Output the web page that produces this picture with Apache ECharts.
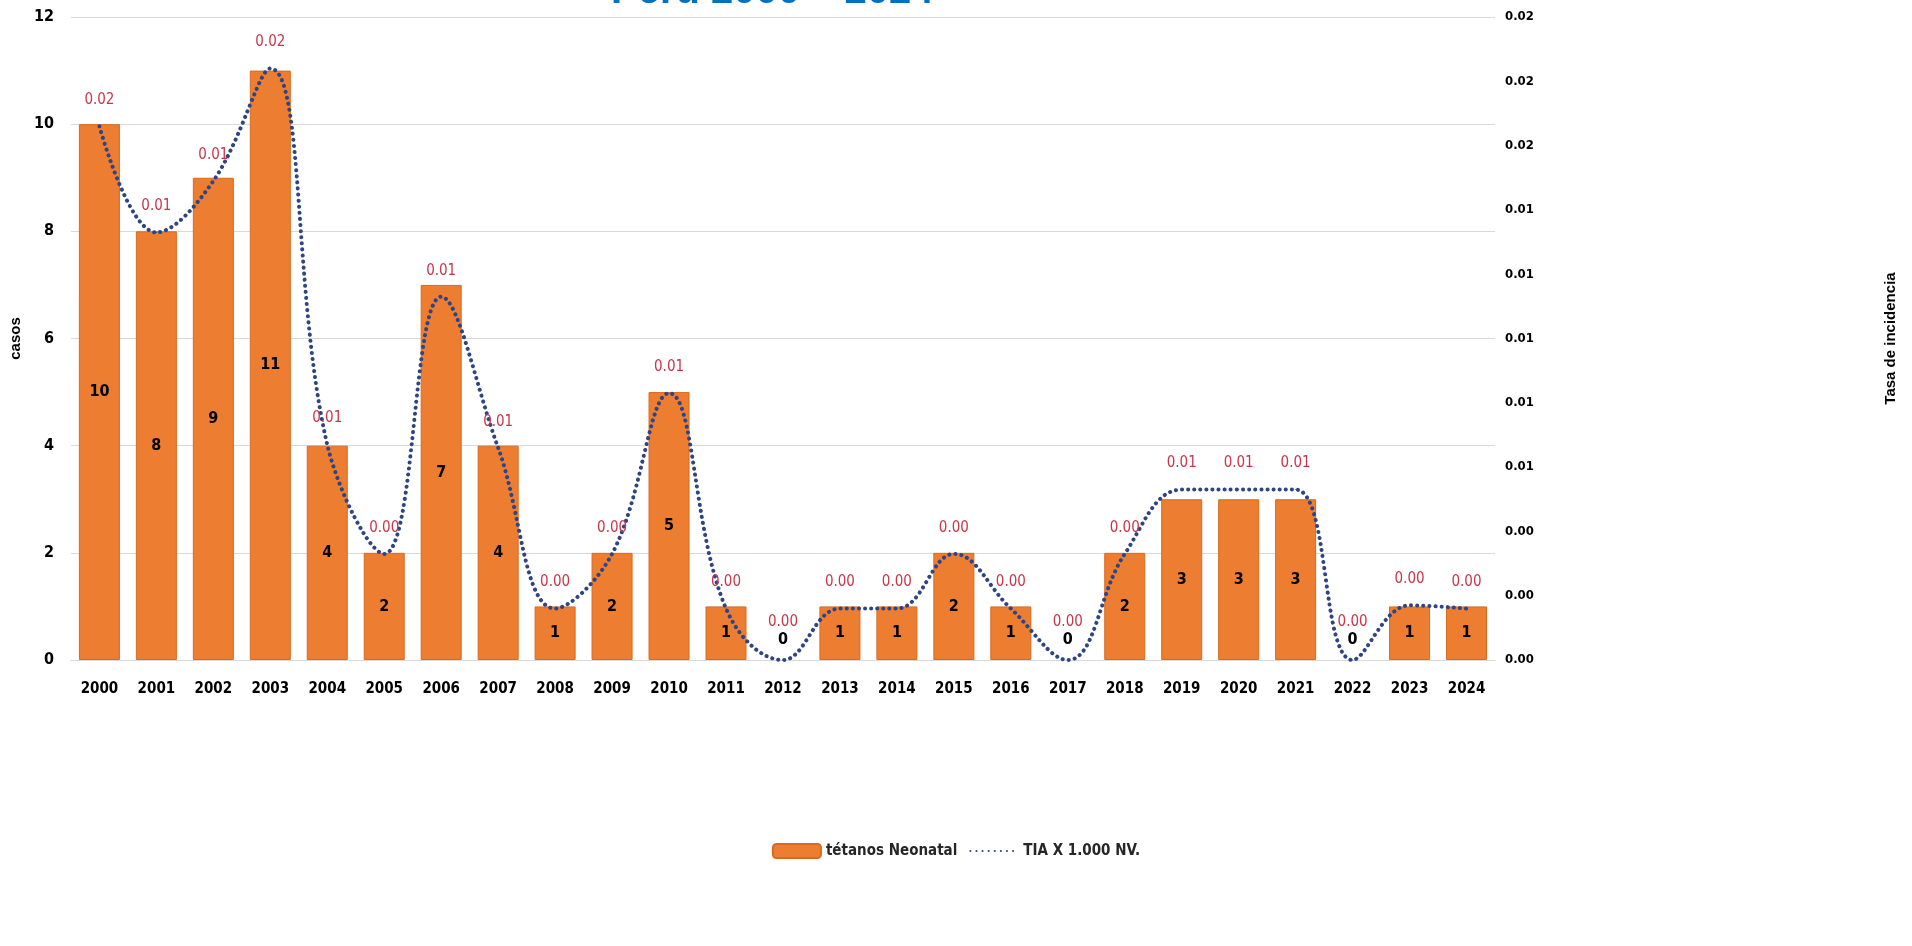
<!DOCTYPE html>
<html>
<head>
<meta charset="utf-8">
<script src="https://cdn.jsdelivr.net/npm/echarts@6/dist/echarts.min.js"></script>
<style>
html,body{margin:0;padding:0;background:#fff;}
#chart{width:1912px;height:946px;}
</style>
</head>
<body>
<div id="chart"></div>
<script>
const years = ['2000','2001','2002','2003','2004','2005','2006','2007','2008','2009','2010','2011','2012','2013','2014','2015','2016','2017','2018','2019','2020','2021','2022','2023','2024'];
const cases = [10,8,9,11,4,2,7,4,1,2,5,1,0,1,1,2,1,0,2,3,3,3,0,1,1];
const tia = [0.0166,0.0133,0.0149,0.0184,0.0067,0.0033,0.0113,0.0066,0.0016,0.0033,0.0083,0.0016,0,0.0016,0.0016,0.0033,0.0016,0,0.0033,0.0053,0.0053,0.0053,0,0.0017,0.0016];
const leftTicks = {min:0, max:12, interval:2};
const rightTicks = {min:0, max:0.02, interval:0.002};

const narrow = "'Liberation Sans Narrow','DejaVu Sans Condensed','Roboto Condensed',sans-serif";
const arial = "'Liberation Sans',Arial,sans-serif";
const navy = '#2E4585';

const chart = echarts.init(document.getElementById('chart'));
chart.setOption({
  animation:false,
  backgroundColor:'#fff',
  title:{
    text:'Perú 2000 – 2024',
    left:606, top:-33,
    textStyle:{color:'#0070C0', fontSize:40, fontWeight:'bold', fontFamily:arial}
  },
  grid:{left:65, right:417, top:17, bottom:286},
  legend:{
    bottom:82, left:'center',
    itemWidth:48, itemHeight:14, itemGap:12,
    textStyle:{fontFamily:narrow, fontSize:15, fontWeight:'bold', color:'#262626'},
    data:[{name:'tétanos Neonatal'},{name:'TIA X 1.000 NV.', itemStyle:{opacity:0}}]
  },
  xAxis:{
    type:'category', data:years,
    axisTick:{show:false},
    axisLine:{lineStyle:{color:'#D9D9D9', width:1}},
    axisLabel:{margin:22, fontFamily:narrow, fontSize:15, fontWeight:'bold', color:'#000'}
  },
  yAxis:[{
    type:'value', min:leftTicks.min, max:leftTicks.max, interval:leftTicks.interval,
    name:'casos', nameLocation:'middle', nameGap:47, nameRotate:90,
    nameTextStyle:{fontFamily:arial, fontSize:15, fontWeight:'bold', color:'#000'},
    axisLine:{show:false}, axisTick:{show:false},
    axisLabel:{margin:17, fontFamily:narrow, fontSize:16, fontWeight:'bold', color:'#000'},
    splitLine:{lineStyle:{color:'#D9D9D9', width:1}}
  },{
    type:'value', min:rightTicks.min, max:rightTicks.max, interval:rightTicks.interval,
    name:'Tasa de incidencia', nameLocation:'middle', nameGap:388, nameRotate:90,
    nameTextStyle:{fontFamily:arial, fontSize:15, fontWeight:'bold', color:'#000'},
    axisLine:{show:false}, axisTick:{show:false},
    axisLabel:{margin:10, fontFamily:narrow, fontSize:13, fontWeight:'bold', color:'#000',
      formatter:v=>v.toFixed(2)},
    splitLine:{show:false}
  }],
  series:[{
    name:'tétanos Neonatal', type:'bar', yAxisIndex:0, barWidth:'72%',
    itemStyle:{color:'#ED7D31', borderColor:'#D86A1E', borderWidth:1},
    data:cases.map(v=>v===0 ? {value:v, itemStyle:{borderWidth:0}, label:{position:'top', distance:12}} : v),
    label:{show:true, position:'inside', fontFamily:narrow, fontSize:16, fontWeight:'bold', color:'#000'},
    z:2
  },{
    name:'TIA X 1.000 NV.', type:'line', yAxisIndex:1, smooth:0.4,
    symbol:'circle', symbolSize:1, showSymbol:true,
    lineStyle:{color:navy, width:4, type:[0.1,6], cap:'round'},
    itemStyle:{color:navy},
    data:tia.map(v=>v===0 ? {value:v, label:{distance:30}} : v),
    label:{show:true, position:'top', distance:18, fontFamily:narrow, fontSize:15, color:'#C8364A',
      formatter:p=>p.value.toFixed(2)},
    z:3
  }]
});
</script>
</body>
</html>
